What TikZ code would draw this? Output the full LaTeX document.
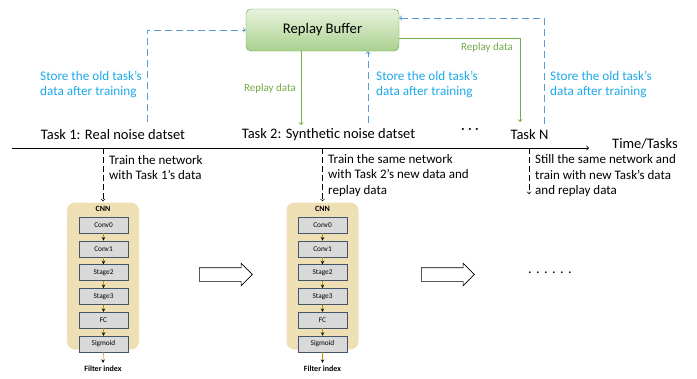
\documentclass[tikz,border=0pt]{standalone}
\usepackage{fontspec}
\setmainfont{Carlito}
\usetikzlibrary{positioning,shapes.arrows}
\definecolor{storeblue}{RGB}{91,155,213}
\definecolor{textblue}{RGB}{30,168,232}
\definecolor{replaygreen}{RGB}{112,173,71}
\definecolor{buftop}{RGB}{232,243,222}
\definecolor{bufbottom}{RGB}{169,209,142}
\definecolor{cnntan}{RGB}{239,223,180}
\definecolor{layergray}{RGB}{217,217,217}
\definecolor{layerborder}{RGB}{68,84,106}
\definecolor{gold}{RGB}{191,144,0}
\tikzset{
  buffer/.style={draw=replaygreen!90!black, rounded corners=5pt, top color=buftop, bottom color=bufbottom,
    minimum width=153pt, minimum height=42pt, font=\fontsize{14.7}{16}\selectfont},
  tasklabel/.style={font=\fontsize{14.5}{16}\selectfont, inner sep=1pt},
  storetext/.style={text=textblue, align=left, anchor=west, inner sep=0pt, font=\fontsize{13.2}{15}\selectfont},
  replaytext/.style={text=replaygreen, inner sep=0pt, font=\fontsize{11}{12}\selectfont},
  traintext/.style={align=left, anchor=west, inner sep=0pt, font=\fontsize{13}{15.5}\selectfont},
  storeline/.style={->, draw=storeblue, line width=0.9pt, dash pattern=on 7pt off 4pt},
  replayline/.style={->, draw=replaygreen, line width=0.9pt},
  trainline/.style={->, line width=0.7pt, dash pattern=on 6pt off 3pt, shorten >=1pt},
  timeline/.style={->, line width=0.8pt},
  cnnbox/.style={fill=cnntan, rounded corners=8pt, minimum width=72pt, minimum height=147pt},
  cnntitle/.style={font=\fontsize{8}{9}\selectfont\bfseries, inner sep=0pt},
  layer/.style={draw=layerborder, fill=layergray, line width=0.5pt, minimum width=49pt, minimum height=16pt,
    inner sep=0pt, font=\fontsize{7.3}{8}\selectfont},
  layerarrow/.style={->, >=stealth, draw=gold, line width=0.6pt},
  bigarrow/.style={single arrow, draw, line width=0.6pt, minimum height=53pt, inner xsep=0pt, inner ysep=6.5pt,
    single arrow head extend=4.5pt},
  node distance=7.3pt
}
\begin{document}
\begin{tikzpicture}[x=1pt,y=-1pt]
\useasboundingbox (0,0) rectangle (697,378);

\node[buffer] (buffer) at (322.5,30) {Replay Buffer};

% time line with the tasks
\node[tasklabel] (task_1) at (113,135) {Task 1: Real noise datset};
\node[tasklabel] (task_2) at (328.5,135) {Task 2: Synthetic noise datset};
\node[tasklabel] (dots) at (470,131) {· · ·};
\node[tasklabel] (task_N) at (529.5,135) {Task N};
\coordinate (t_start) at (12,148);
\coordinate (t_end) at (589,148);
\draw[timeline] (t_start) -- (t_end);
\node[tasklabel, anchor=west] (time) at (611,144) {Time/Tasks};

% storing and replaying
\coordinate (s_1) at (147,122);
\coordinate (s_2) at (368,123);
\coordinate (s_N) at (544,124);
\coordinate (r_2) at (301,125);
\coordinate (r_N) at (520,122);
\draw[storeline] (s_1) |- (buffer.west);
\draw[storeline] (s_2) -- (s_2 |- buffer.south);
\draw[storeline] (s_N) |- ([yshift=12pt]buffer.east);
\draw[replayline] (r_2 |- buffer.south) -- (r_2);
\draw[replayline] ([yshift=-8pt]buffer.east) -| (r_N);
\node[storetext] (store_1) at (40,84.5) {Store the old task’s\\data after training};
\node[storetext] (store_2) at (376,84.5) {Store the old task’s\\data after training};
\node[storetext] (store_N) at (550,84.5) {Store the old task’s\\data after training};
\node[replaytext] (replay_2) at (270,89) {Replay data};
\node[replaytext] (replay_N) at (487,48) {Replay data};

% first network
\node[cnnbox] (cnn_1) at (103,276) {};
\node[cnntitle] (title_1) at (103,209) {CNN};
\node[layer] (c1_0) at (103.5,225) {Conv0};
\node[layer] (c1_1) [below=of c1_0] {Conv1};
\node[layer] (c1_2) [below=of c1_1] {Stage2};
\node[layer] (c1_3) [below=of c1_2] {Stage3};
\node[layer] (c1_4) [below=of c1_3] {FC};
\node[layer] (c1_5) [below=of c1_4] {Sigmoid};
\node[cnntitle] (out_1) at (103,369) {Filter index};
\path[layerarrow]
  (c1_0) edge (c1_1)
  (c1_1) edge (c1_2)
  (c1_2) edge (c1_3)
  (c1_3) edge (c1_4)
  (c1_4) edge (c1_5)
  (c1_5) edge ([yshift=3pt]out_1.north);

% second network
\node[cnnbox] (cnn_2) at (322.5,276) {};
\node[cnntitle] (title_2) at (322.5,209) {CNN};
\node[layer] (c2_0) at (322.5,225) {Conv0};
\node[layer] (c2_1) [below=of c2_0] {Conv1};
\node[layer] (c2_2) [below=of c2_1] {Stage2};
\node[layer] (c2_3) [below=of c2_2] {Stage3};
\node[layer] (c2_4) [below=of c2_3] {FC};
\node[layer] (c2_5) [below=of c2_4] {Sigmoid};
\node[cnntitle] (out_2) at (322.5,369) {Filter index};
\path[layerarrow]
  (c2_0) edge (c2_1)
  (c2_1) edge (c2_2)
  (c2_2) edge (c2_3)
  (c2_3) edge (c2_4)
  (c2_4) edge (c2_5)
  (c2_5) edge ([yshift=3pt]out_2.north);

\node[bigarrow] (next_1) at (222.5,274.5) {};
\node[bigarrow] (next_2) at (444.5,274.5) {};
\node[tasklabel] (more) at (550,273) {. . . . . .};

% training on each task
\coordinate (d_N) at (529,195);
\draw[trainline] (cnn_1.north |- t_start) -- (cnn_1.north);
\draw[trainline] (cnn_2.north |- t_start) -- (cnn_2.north);
\draw[trainline] (d_N |- t_start) -- (d_N);
\node[traintext] (train_1) at (109,167.5) {Train the network\\with Task 1’s data};
\node[traintext] (train_2) at (328,175.5) {Train the same network\\with Task 2’s new data and\\replay data};
\node[traintext] (train_N) at (535,176) {Still the same network and\\train with new Task’s data\\and replay data};
\end{tikzpicture}
\end{document}
